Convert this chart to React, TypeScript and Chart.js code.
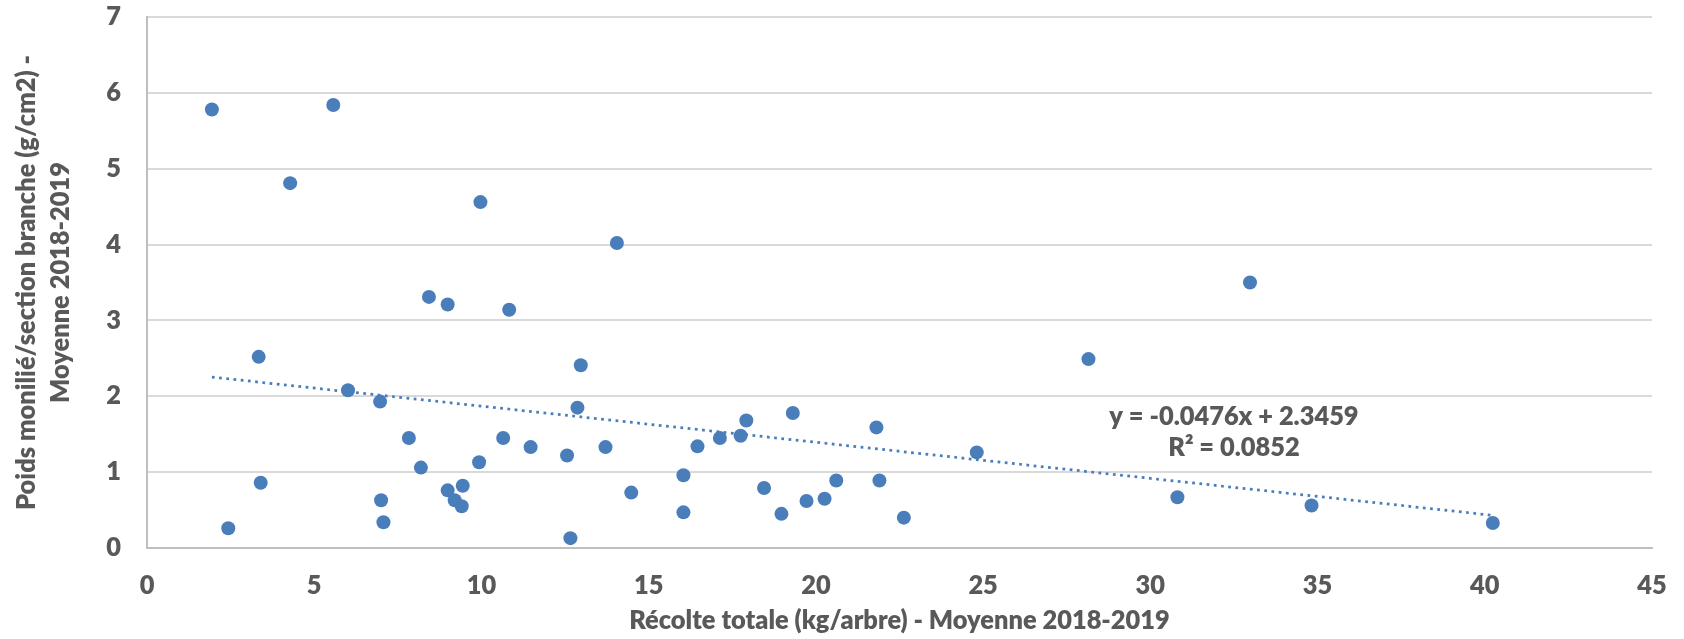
import React, { useEffect, useRef } from "react";
import { Chart, registerables } from "chart.js";

Chart.register(...registerables);

// Récolte totale (kg/arbre) - x values
const recolte: number[] = [
  1.94, 5.57, 4.28, 9.97, 14.05, 32.98, 8.43, 8.99, 10.83, 3.34,
  12.97, 28.15, 6.01, 6.97, 12.87, 17.92, 19.31, 21.81, 7.83, 10.65,
  11.47, 13.71, 16.46, 17.13, 17.75, 24.81, 12.56, 9.93, 8.19, 16.04,
  3.40, 9.44, 8.99, 18.45, 20.61, 21.9, 14.48, 7.0, 9.2, 9.41,
  19.72, 20.26, 30.81, 34.82, 40.24, 2.43, 7.07, 16.04, 18.97, 22.63,
  12.66,
];

// Poids monilié/section branche (g/cm2) - y values
const poids: number[] = [
  5.78, 5.84, 4.81, 4.56, 4.02, 3.5, 3.31, 3.21, 3.14, 2.52,
  2.41, 2.49, 2.08, 1.93, 1.85, 1.68, 1.78, 1.59, 1.45, 1.45,
  1.33, 1.33, 1.34, 1.45, 1.48, 1.26, 1.22, 1.13, 1.06, 0.96,
  0.86, 0.82, 0.76, 0.79, 0.89, 0.89, 0.73, 0.63, 0.63, 0.55,
  0.62, 0.65, 0.67, 0.56, 0.33, 0.26, 0.34, 0.47, 0.45, 0.40,
  0.13,
];

// Linear trend line as displayed on the chart
const trendSlope = -0.0476;
const trendIntercept = 2.3459;
const trendLabels: string[] = ["y = -0.0476x + 2.3459", "R² = 0.0852"];

const xTicks: number[] = [0, 5, 10, 15, 20, 25, 30, 35, 40, 45];
const yTicks: number[] = [0, 1, 2, 3, 4, 5, 6, 7];

const xTitle = "Récolte totale (kg/arbre) - Moyenne 2018-2019";
const yTitle: string[] = ["Poids monilié/section branche (g/cm2) -", "Moyenne 2018-2019"];

// placement of the equation label (data coordinates)
const EQ_X = 32.5;
const EQ_Y: number[] = [1.73, 1.32];

const FONT = "Lato";
const WEIGHT = 800;
const TEXT_COLOR = "#595959";
const BLUE = "#4A7EBB";
const X_TITLE_WIDTH = 541; // rendered width of the x-axis title in the reference

function pickFontSize(): number {
  const c = document.createElement("canvas").getContext("2d");
  if (!c) return 24;
  c.font = `${WEIGHT} 100px ${FONT}`;
  const w = c.measureText(xTitle).width;
  if (!w) return 24;
  return Math.round(((100 * X_TITLE_WIDTH) / w) * 10) / 10;
}

export default function App() {
  const ref = useRef<HTMLCanvasElement | null>(null);

  useEffect(() => {
    if (!ref.current) return;
    const FS = pickFontSize();
    const pts = recolte.map((x, i) => ({ x, y: poids[i] }));
    const xmin = Math.min(...recolte);
    const xmax = Math.max(...recolte);
    const trend = [
      { x: xmin, y: trendSlope * xmin + trendIntercept },
      { x: xmax, y: trendSlope * xmax + trendIntercept },
    ];

    const eqPlugin = {
      id: "eqLabel",
      afterDatasetsDraw(chart: any) {
        const { ctx, scales } = chart;
        ctx.save();
        ctx.font = `${WEIGHT} ${FS}px ${FONT}`;
        ctx.fillStyle = TEXT_COLOR;
        ctx.textAlign = "center";
        ctx.textBaseline = "middle";
        const px = scales.x.getPixelForValue(EQ_X);
        trendLabels.forEach((t, i) => {
          ctx.fillText(t, px, scales.y.getPixelForValue(EQ_Y[i]));
        });
        ctx.restore();
      },
    };

    const tickFont = { family: FONT, size: FS, weight: WEIGHT as any };

    const chart = new Chart(ref.current, {
      type: "scatter",
      data: {
        datasets: [
          {
            label: "Poids",
            data: pts,
            backgroundColor: BLUE,
            borderColor: BLUE,
            borderWidth: 0,
            pointRadius: 7,
            pointHoverRadius: 7,
            order: 0,
          },
          {
            type: "line",
            label: "Trend",
            data: trend,
            borderColor: BLUE,
            borderWidth: 2.75,
            borderDash: [2.75, 4.5],
            pointRadius: 0,
            fill: false,
            order: 1,
          } as any,
        ],
      },
      options: {
        animation: false,
        responsive: false,
        devicePixelRatio: 1,
        layout: { padding: { top: 17, right: 32, left: 0, bottom: 0 } },
        plugins: {
          legend: { display: false },
          tooltip: { enabled: false },
        },
        scales: {
          x: {
            type: "linear",
            min: 0,
            max: 45,
            afterBuildTicks: (s: any) => {
              s.ticks = xTicks.map((v) => ({ value: v }));
            },
            afterFit: (s: any) => {
              s.height = 91;
            },
            grid: {
              display: true,
              drawOnChartArea: false,
              drawTicks: true,
              tickLength: 24 - (FS - 23) * 0.6,
              tickColor: "rgba(0,0,0,0)",
            },
            border: { display: true, color: "#bfbfbf", width: 2 },
            ticks: {
              padding: 0,
              color: TEXT_COLOR,
              font: tickFont,
              maxRotation: 0,
            },
            title: {
              display: true,
              text: xTitle,
              color: TEXT_COLOR,
              font: { family: FONT, size: FS, weight: WEIGHT as any, lineHeight: 1.2 },
              padding: { top: 0, bottom: Math.max(0, 18 - FS * 0.6) },
            },
          },
          y: {
            type: "linear",
            min: 0,
            max: 7,
            afterBuildTicks: (s: any) => {
              s.ticks = yTicks.map((v) => ({ value: v }));
            },
            afterFit: (s: any) => {
              s.width = 147;
            },
            grid: {
              display: true,
              color: "#d9d9d9",
              lineWidth: 2,
              drawTicks: true,
              tickLength: 26,
              tickColor: "rgba(0,0,0,0)",
            },
            border: { display: true, color: "#bfbfbf", width: 2 },
            ticks: {
              padding: 0,
              color: TEXT_COLOR,
              font: tickFont,
            },
            title: {
              display: true,
              text: yTitle,
              color: TEXT_COLOR,
              font: { family: FONT, size: FS, weight: WEIGHT as any, lineHeight: 34 / FS },
              padding: { top: 10, bottom: 0 },
            },
          },
        },
      },
      plugins: [eqPlugin],
    });
    return () => chart.destroy();
  }, []);

  return (
    <div style={{ position: "absolute", left: 0, top: 0, width: 1684, height: 639, background: "#fff" }}>
      <canvas ref={ref} width={1684} height={639} style={{ width: 1684, height: 639 }} />
    </div>
  );
}
